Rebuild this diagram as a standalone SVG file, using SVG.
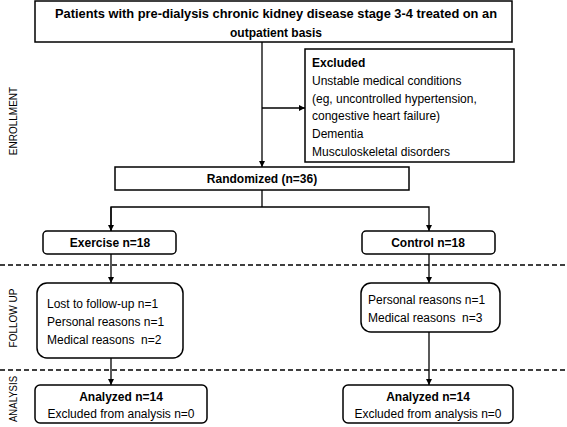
<svg xmlns="http://www.w3.org/2000/svg" width="567" height="427" viewBox="0 0 567 427">
<defs>
<style>
.box{fill:#fff;stroke:#000;stroke-width:1.5}
.ln{fill:none;stroke:#000;stroke-width:1.3}
.dash{fill:none;stroke:#000;stroke-width:1.3;stroke-dasharray:5 3}
.b{font-family:"Liberation Sans",Arial,sans-serif;font-weight:bold;font-size:12px;fill:#000}
.r{font-family:"Liberation Sans",Arial,sans-serif;font-size:12px;fill:#000}
.side{font-family:"Liberation Sans",Arial,sans-serif;font-size:10px;fill:#000}
</style>
<marker id="ah" viewBox="0 0 8 8" refX="8" refY="4" markerWidth="6" markerHeight="6" orient="auto" markerUnits="userSpaceOnUse">
<path d="M0,0 L8,4 L0,8 z" fill="#000"/>
</marker>
</defs>
<rect width="567" height="427" fill="#fff"/>
<g id="phases">
<line class="dash" x1="0" y1="265" x2="567" y2="265"/>
<line class="dash" x1="0" y1="370" x2="567" y2="370"/>
<text class="side" transform="translate(17,121) rotate(-90)" text-anchor="middle">ENROLLMENT</text>
<text class="side" transform="translate(17,318) rotate(-90)" text-anchor="middle">FOLLOW UP</text>
<text class="side" transform="translate(17,399) rotate(-90)" text-anchor="middle" textLength="46" lengthAdjust="spacingAndGlyphs">ANALYSIS</text>
</g>
<g id="connectors">
<line class="ln" x1="262" y1="42" x2="262" y2="167" marker-end="url(#ah)"/>
<line class="ln" x1="262" y1="108" x2="305" y2="108" marker-end="url(#ah)"/>
<polyline class="ln" points="262,190 262,207"/>
<polyline class="ln" points="111,231 111,207 429,207 429,231" marker-end="url(#ah)"/>
<line class="ln" x1="111" y1="207" x2="111" y2="231" marker-end="url(#ah)"/>
<line class="ln" x1="111" y1="254" x2="111" y2="283" marker-end="url(#ah)"/>
<line class="ln" x1="429" y1="254" x2="429" y2="283" marker-end="url(#ah)"/>
<line class="ln" x1="111" y1="358" x2="111" y2="385" marker-end="url(#ah)"/>
<line class="ln" x1="429" y1="332" x2="429" y2="385" marker-end="url(#ah)"/>
</g>
<g id="patients">
<rect class="box" x="35" y="1" width="477" height="41"/>
<text class="b" x="276" y="18" text-anchor="middle" textLength="442" lengthAdjust="spacingAndGlyphs">Patients with pre-dialysis chronic kidney disease stage 3-4 treated on an</text>
<text class="b" x="276" y="37" text-anchor="middle">outpatient basis</text>
</g>
<g id="excluded">
<rect class="box" x="305" y="49" width="209" height="113"/>
<text class="b" x="312" y="67">Excluded</text>
<text class="r" x="312" y="85">Unstable medical conditions</text>
<text class="r" x="312" y="103">(eg, uncontrolled hypertension,</text>
<text class="r" x="312" y="120">congestive heart failure)</text>
<text class="r" x="312" y="138">Dementia</text>
<text class="r" x="312" y="156">Musculoskeletal disorders</text>
</g>
<g id="randomized">
<rect class="box" x="115" y="167" width="294" height="23"/>
<text class="b" x="262" y="183" text-anchor="middle">Randomized (n=36)</text>
</g>
<g id="exercise">
<rect class="box" x="43" y="231" width="133" height="23" rx="4"/>
<text class="b" x="110" y="247" text-anchor="middle">Exercise n=18</text>
</g>
<g id="control">
<rect class="box" x="362" y="231" width="133" height="23" rx="4"/>
<text class="b" x="428" y="247" text-anchor="middle">Control n=18</text>
</g>
<g id="followup-exercise">
<rect class="box" x="37" y="283" width="146" height="75" rx="10"/>
<text class="r" x="47" y="308">Lost to follow-up n=1</text>
<text class="r" x="47" y="326">Personal reasons n=1</text>
<text class="r" x="47" y="344" xml:space="preserve">Medical reasons  n=2</text>
</g>
<g id="followup-control">
<rect class="box" x="361" y="283" width="139" height="49" rx="10"/>
<text class="r" x="368" y="304">Personal reasons n=1</text>
<text class="r" x="368" y="322" xml:space="preserve">Medical reasons  n=3</text>
</g>
<g id="analyzed-exercise">
<rect class="box" x="35" y="385" width="172" height="38" rx="5"/>
<text class="b" x="121" y="401" text-anchor="middle">Analyzed n=14</text>
<text class="r" x="121" y="418" text-anchor="middle">Excluded from analysis n=0</text>
</g>
<g id="analyzed-control">
<rect class="box" x="343" y="385" width="170" height="38" rx="5"/>
<text class="b" x="428" y="401" text-anchor="middle">Analyzed n=14</text>
<text class="r" x="428" y="418" text-anchor="middle">Excluded from analysis n=0</text>
</g>
</svg>
